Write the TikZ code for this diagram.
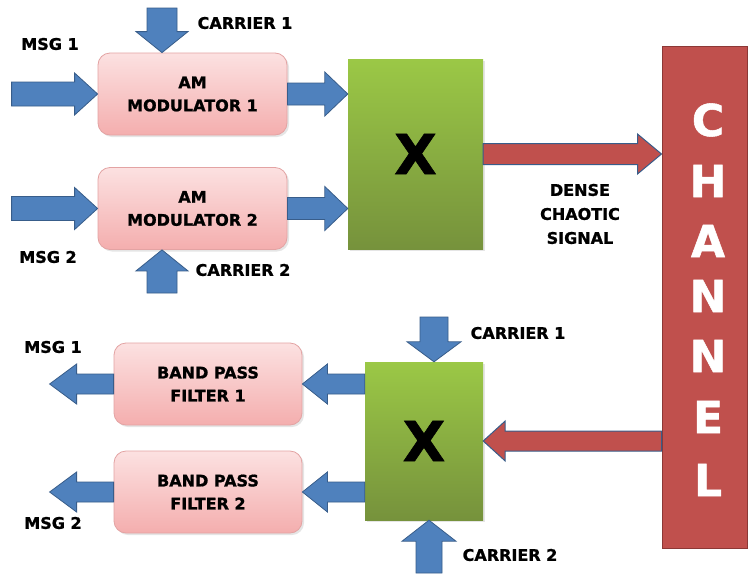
\documentclass[tikz,border=0pt]{standalone}
\usepackage{fontspec}
\setmainfont{DejaVu Sans}[BoldFeatures={FakeBold=1.2}]
\usetikzlibrary{calc,shadows}
\definecolor{ablue}{HTML}{4F81BD}
\definecolor{ablueline}{HTML}{385D8A}
\definecolor{ared}{HTML}{C0504D}
\definecolor{aredline}{HTML}{8C3836}
\definecolor{pinktop}{HTML}{FCE1E1}
\definecolor{pinkbot}{HTML}{F4AEAE}
\definecolor{pinkline}{HTML}{E3A3A3}
\definecolor{greentop}{HTML}{9BC846}
\definecolor{greenbot}{HTML}{76923C}

\newcommand\blkarrow[6]{% style, from, to, shaft half width, head half width, head length
  \coordinate (bH) at ($(#3)!#6!(#2)$);
  \draw[#1] ($(#2)!#4!90:(#3)$) -- ($(bH)!#4!-90:(#2)$) -- ($(bH)!#5!-90:(#2)$) -- (#3)
    -- ($(bH)!#5!90:(#2)$) -- ($(bH)!#4!90:(#2)$) -- ($(#2)!#4!-90:(#3)$) -- cycle;
}

\tikzset{
 modbox/.style={draw=pinkline, line width=0.8pt, rounded corners=12pt,
   top color=pinktop, bottom color=pinkbot, minimum width=189pt, minimum height=82pt,
   align=center, font=\fontsize{16}{23}\selectfont\bfseries, inner sep=0pt,
   drop shadow={opacity=0.2, shadow xshift=2pt, shadow yshift=-2pt}},
 mixbox/.style={top color=greentop, bottom color=greenbot, draw=none,
   font=\fontsize{55}{55}\selectfont\bfseries, inner sep=0pt,
   drop shadow={opacity=0.2, shadow xshift=2pt, shadow yshift=-2pt}},
 chbox/.style={fill=ared, draw=aredline, line width=1pt, inner sep=0pt},
 chletter/.style={text=white, font=\fontsize{44}{44}\selectfont\bfseries, inner sep=0pt},
 lbl/.style={font=\fontsize{16}{24}\selectfont\bfseries, align=center, inner sep=0pt},
 bluearrow/.style={fill=ablue, draw=ablueline, line width=0.8pt},
 redarrow/.style={fill=ared, draw=ablueline, line width=1pt},
}

\begin{document}
\begin{tikzpicture}[x=1pt,y=-1pt]
\useasboundingbox (0,0) rectangle (749,573);
\fill[white] (0,0) rectangle (749,573);
\begin{scope}
\clip (0,0) rectangle (749,573);

% boxes
\node[modbox] (am1) at (192.5,94) {AM\\MODULATOR 1};
\node[modbox] (am2) at (192.5,208.5) {AM\\MODULATOR 2};
\node[mixbox, minimum width=135pt, minimum height=190pt] (xa) at (415.5,154) {X};
\node[chbox, minimum width=85pt, minimum height=502pt] (ch) at (704.5,297) {};
\node[modbox, minimum width=188pt] (bpf1) at (208,384) {BAND PASS\\FILTER 1};
\node[modbox, minimum width=188pt] (bpf2) at (208,492) {BAND PASS\\FILTER 2};
\node[mixbox, minimum width=118pt, minimum height=158pt] (xb) at (424,441) {X};

% channel letters
\foreach \l/\yy [count=\i] in {C/120,H/181,A/241,N/296,N/356,E/417,L/480}
  \node[chletter] (chl\i) at (708,\yy) {\l};

% labels
\node[lbl] (lmsg1) at (50,44) {MSG 1};
\node[lbl] (lmsg2) at (48,257) {MSG 2};
\node[lbl] (lcar1) at (245,23) {CARRIER 1};
\node[lbl] (lcar2) at (243,270) {CARRIER 2};
\node[lbl] (ldense) at (580,214) {DENSE\\CHAOTIC\\SIGNAL};
\node[lbl] (lcar3) at (518,333) {CARRIER 1};
\node[lbl] (lcar4) at (510,555) {CARRIER 2};
\node[lbl] (lmsg3) at (53,347) {MSG 1};
\node[lbl] (lmsg4) at (53,523) {MSG 2};

% free ends
\coordinate (m1s) at ($(am1.west)+(-86,0)$);
\coordinate (m2s) at ($(am2.west)+(-86,0)$);
\coordinate (c1s) at (162,8);
\coordinate (c2s) at (162,293);
\coordinate (c3s) at (434,317);
\coordinate (c4s) at (429,573);
\coordinate (o1) at ($(bpf1.west)+(-64,0)$);
\coordinate (o2) at ($(bpf2.west)+(-64,0)$);

% blue arrows, transmitter
\blkarrow{bluearrow}{m1s}{am1.west}{12pt}{21pt}{23pt}
\blkarrow{bluearrow}{m2s}{am2.west}{12pt}{21pt}{23pt}
\blkarrow{bluearrow}{c1s}{c1s |- am1.north}{15pt}{26pt}{21pt}
\blkarrow{bluearrow}{c2s}{c2s |- am2.south}{15pt}{26pt}{21pt}
\blkarrow{bluearrow}{am1.east}{am1.east -| xa.west}{11pt}{22pt}{23pt}
\blkarrow{bluearrow}{am2.east}{am2.east -| xa.west}{11pt}{22pt}{23pt}

% red arrows
\blkarrow{redarrow}{xa.east}{xa.east -| ch.west}{10.5pt}{20pt}{24pt}
\blkarrow{redarrow}{xb.east -| ch.west}{xb.east}{10pt}{20pt}{22pt}

% blue arrows, receiver
\blkarrow{bluearrow}{c3s}{c3s |- xb.north}{14pt}{27pt}{20pt}
\blkarrow{bluearrow}{c4s}{c4s |- xb.south}{13pt}{27pt}{21pt}
\blkarrow{bluearrow}{bpf1.east -| xb.west}{bpf1.east}{10pt}{20pt}{25pt}
\blkarrow{bluearrow}{bpf2.east -| xb.west}{bpf2.east}{10pt}{20pt}{25pt}
\blkarrow{bluearrow}{bpf1.west}{o1}{10pt}{20pt}{27pt}
\blkarrow{bluearrow}{bpf2.west}{o2}{10pt}{20pt}{27pt}
\end{scope}
\end{tikzpicture}
\end{document}
